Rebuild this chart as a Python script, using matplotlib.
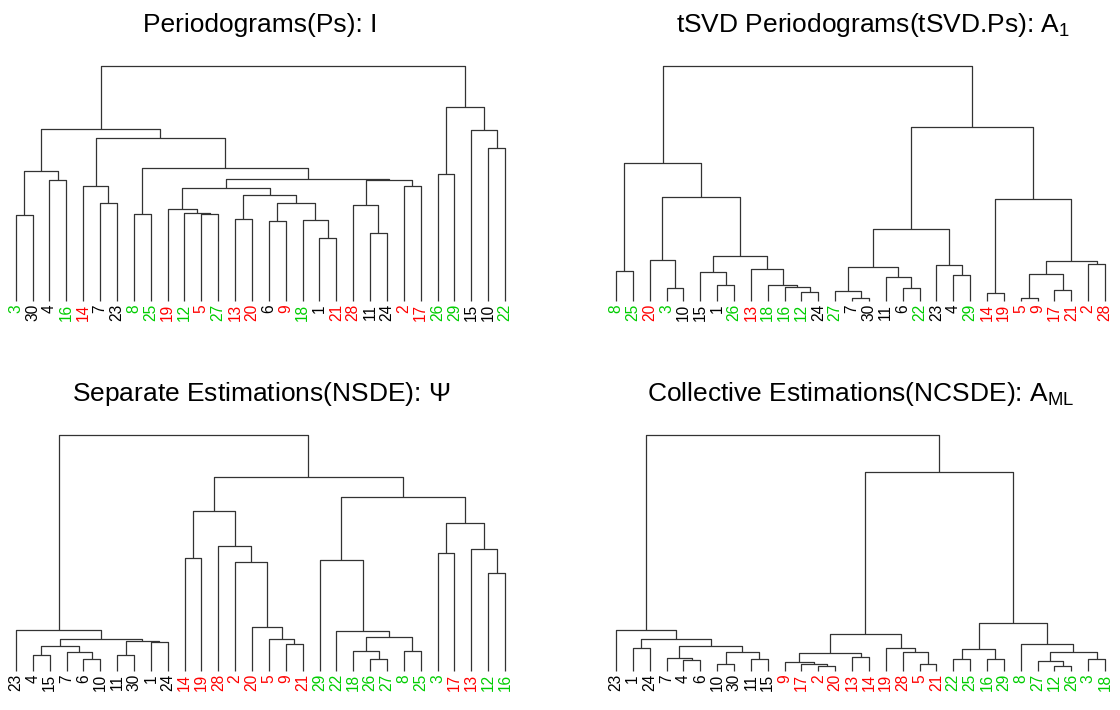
import matplotlib.pyplot as plt

plt.rcParams['font.family'] = ['Liberation Sans', 'DejaVu Sans']
plt.rcParams['mathtext.fontset'] = 'custom'
plt.rcParams['mathtext.rm'] = 'Liberation Sans'
plt.rcParams['mathtext.it'] = 'Liberation Sans:italic'

# leaf colour groups
red_ids = [2, 5, 9, 13, 14, 17, 19, 20, 21, 28]
green_ids = [3, 8, 12, 16, 18, 22, 25, 26, 27, 29]

# merge trees: (left, right, merge height), leaves are ints
ps_a = ((3, 30, 85.4), (4, 16, 121), 130)
ps_b = (14, (7, 23, 98), 115)
ps_c = (19, (12, (5, 27, 86.4), 87.4), 91.4)
ps_d = ((13, 20, 81.4), ((6, 9, 79.4), (18, (1, 21, 63), 80.4), 97.7), 106)
ps_f = ((28, (11, 24, 68), 95.4), (2, 17, 115), 120.7)
ps_h = ((8, 25, 86.4), ((ps_c, ps_d, 112.4), ps_f, 121.4), 132.7)
ps_k = ((26, 29, 126.4), (15, (10, 22, 152.7), 171), 193.4)
tree_ps = ((ps_a, (ps_b, ps_h, 162.4), 172), ps_k, 235)

tsvd_l = ((8, 25, 30),
          ((20, (3, 10, 12.7), 40.7),
           ((15, (1, 26, 15.4), 29),
            (13, (18, (16, (12, 24, 9), 14), 15.7), 31.7), 44.4), 103.7), 137.7)
tsvd_m = (((27, (7, 30, 2.4), 9.4), (11, (6, 22, 12.7), 24), 33.7),
          (23, (4, 29, 25.7), 36), 71.4)
tsvd_n = ((14, 19, 7.4),
          (((5, 9, 2.4), (17, 21, 10.7), 26.7), (2, 28, 36.7), 39.4), 101.4)
tree_tsvd = (tsvd_l, (tsvd_m, tsvd_n, 173.4), 235)

nsde_p = (23, (((4, 15, 15.3), (7, (6, 10, 12), 18.3), 24.3),
               ((11, 30, 15.3), (1, 24, 28.3), 30), 32), 40.7)
nsde_q = ((14, 19, 113),
          (28, (2, (20, (5, (9, 21, 26.7), 31.3), 43.3), 109), 125), 159.7)
nsde_s = ((29, (22, ((18, (26, 27, 11.3), 19.3), (8, 25, 19.3), 33.3), 39.3), 110.3),
          ((3, 17, 117.3), (13, (12, 16, 97.3), 122), 147.3), 174)
tree_nsde = (nsde_p, (nsde_q, nsde_s, 193.3), 236)

ncsde_t = (23, ((1, 24, 22.3),
                ((7, (4, 6, 10.3), 13), ((10, 30, 7), (11, 15, 11.7), 18.7), 25),
                31.3), 40.7)
ncsde_u = (((9, (17, (2, 20, 5), 6.7), 9), (13, 14, 14), 18),
           (19, (28, (5, 21, 6.7), 19), 22.3), 36.7)
ncsde_v = (((22, 25, 11.3), (16, 29, 11.3), 21.3),
           (8, ((27, (12, 26, 4.7), 9.7), (3, 18, 11.3), 19), 27), 48)
tree_ncsde = (ncsde_t, (ncsde_u, ncsde_v, 198.3), 236)

titles = ['Periodograms(Ps): I',
          'tSVD Periodograms(tSVD.Ps): A$_1$',
          'Separate Estimations(NSDE): $\\Psi$',
          'Collective Estimations(NCSDE): A$_{\\mathrm{ML}}$']
trees = [tree_ps, tree_tsvd, tree_nsde, tree_ncsde]

# panel placement in pixels: left leaf x, right leaf x, baseline y, root y
boxes = [(15.7, 505, 300.7, 65.7), (616, 1105, 300.7, 65.7),
         (16, 505, 670.7, 434.7), (616, 1105, 670.7, 434.7)]
# title centre x and baseline y in pixels
title_xy = [(260, 31.7), (873, 31.7), (261, 400.7), (861, 400.7)]

W, H = 1120, 710
fig = plt.figure(figsize=(W / 100, H / 100), dpi=100)


def leaf_color(n):
    if n in red_ids:
        return '#ff0000'
    if n in green_ids:
        return '#00cd00'
    return 'black'


def draw(ax, node, pos):
    if isinstance(node, int):
        x = len(pos)
        pos.append(node)
        return x, 0
    l, r, h = node
    xl, hl = draw(ax, l, pos)
    xr, hr = draw(ax, r, pos)
    ax.plot([xl, xl, xr, xr], [hl, h, h, hr], color='#333333', lw=0.9,
            solid_capstyle='butt', clip_on=False)
    return (xl + xr) / 2, h


for tree, title, (x0, x1, base, top), (tx, ty) in zip(trees, titles, boxes, title_xy):
    ax = fig.add_axes([x0 / W, 1 - base / H, (x1 - x0) / W, (base - top) / H])
    pos = []
    draw(ax, tree, pos)
    n = len(pos)
    ax.set_xlim(0, n - 1)
    ax.set_ylim(0, tree[2])
    ax.axis('off')
    for i, lab in enumerate(pos):
        ax.annotate(str(lab), (i, 0), xytext=(0, -2.5), textcoords='offset points',
                    rotation=90, ha='center', va='top', fontsize=11.2,
                    color=leaf_color(lab), annotation_clip=False)
    fig.text(tx / W, 1 - ty / H, title, ha='center', va='baseline',
             fontsize=19)

fig.savefig('out.png', dpi=100)
